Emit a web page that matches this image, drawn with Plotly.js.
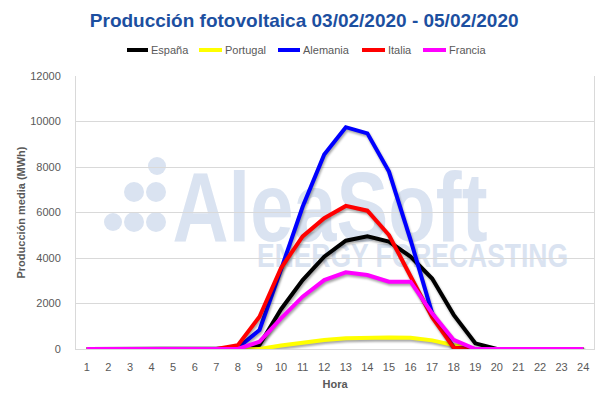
<!DOCTYPE html>
<html>
<head>
<meta charset="utf-8">
<script src="https://cdn.plot.ly/plotly-3.0.1.min.js"></script>
<style>
html,body{margin:0;padding:0;background:#fff;}
#chart{width:600px;height:399px;}
#chart .scatterlayer .trace path.js-line{filter:drop-shadow(1px 2px 1.2px rgba(0,0,0,0.35));}
</style>
</head>
<body>
<div id="chart"></div>
<script>
// ---- data ----
const horas = [1,2,3,4,5,6,7,8,9,10,11,12,13,14,15,16,17,18,19,20,21,22,23,24];
const espana   = [0,0,0,0,0,0,0,20,175,1750,3030,4060,4760,4950,4720,4060,3100,1500,250,0,0,0,0,0];
const portugal = [0,0,0,0,0,0,0,0,0,150,280,400,470,500,510,490,380,170,0,0,0,0,0,0];
const alemania = [0,0,0,0,0,0,0,50,835,3500,6250,8550,9750,9480,7800,4800,1580,60,0,0,0,0,0,0];
const italia   = [0,0,0,0,0,0,0,170,1420,3560,4950,5750,6290,6080,5010,3200,1400,60,0,0,0,0,0,0];
const francia  = [0,0,0,0,0,0,0,0,320,1350,2300,3030,3370,3250,2960,2960,1570,400,0,0,0,0,0,0];
const seriesNames = ["España","Portugal","Alemania","Italia","Francia"];
const seriesColors = ["#000000","#ffff00","#0000ff","#ff0000","#ff00ff"];
const yTicks = [0,2000,4000,6000,8000,10000,12000];

// ---- layout geometry (pixels) ----
const W = 600, H = 399;
const M = {l:76, r:6, t:76, b:50};
const pw = W - M.l - M.r, ph = H - M.t - M.b;
const px = x => (x - M.l) / pw;
const py = y => (H - M.b - y) / ph;

const allSeries = [espana, portugal, alemania, italia, francia];
const traces = allSeries.map((vals, i) => ({
  x: horas, y: vals, type: 'scatter', mode: 'lines', name: seriesNames[i],
  line: {color: seriesColors[i], width: 4}, showlegend: false
}));

const gray = '#595959';

// watermark (drawn below traces)
const wm = '#dae3f1';
const dots = [[113,222,9],[134,222,10],[156,222,10],[134,192,10],[156,192,10],[157,166,9]];
const shapes = dots.map(d => ({
  type:'circle', xref:'paper', yref:'paper', layer:'below',
  x0:px(d[0]-d[2]), x1:px(d[0]+d[2]), y0:py(d[1]+d[2]), y1:py(d[1]-d[2]),
  fillcolor: wm, line:{width:0}
}));
shapes.push({
  type:'rect', xref:'paper', yref:'paper', layer:'below',
  x0:px(170), x1:px(490), y0:py(240), y1:py(156), line:{width:0}, fillcolor:'rgba(0,0,0,0)',
  label:{text:'<b>AleaSoft</b>', font:{family:'Liberation Sans, Arial, sans-serif', size:98, color:wm}, textposition:'middle center'}
});
shapes.push({
  type:'rect', xref:'paper', yref:'paper', layer:'below',
  x0:px(257), x1:px(568), y0:py(268), y1:py(236), line:{width:0}, fillcolor:'rgba(0,0,0,0)',
  label:{text:'<b>ENERGY FORECASTING</b>', font:{family:'Liberation Sans, Arial, sans-serif', size:33, color:wm}, textposition:'middle center'}
});

// custom legend (line sample + label), laid out as in the original
const legLineX = [[127,148],[199,222],[278,300],[362,385],[423,446]];
const legY = 50;
const legendShapes = seriesNames.map((n, i) => ({
  type:'line', xref:'paper', yref:'paper',
  x0:px(legLineX[i][0]), x1:px(legLineX[i][1]), y0:py(legY), y1:py(legY),
  line:{color: seriesColors[i], width: 4}
}));
const legendAnn = seriesNames.map((n, i) => ({
  text: n, xref:'paper', yref:'paper', x:px(legLineX[i][1] + 1), y:py(legY),
  xanchor:'left', yanchor:'middle', showarrow:false,
  font:{size:11, color: gray}
}));

const layout = {
  width: W, height: H,
  margin: M,
  paper_bgcolor: '#ffffff',
  plot_bgcolor: 'rgba(0,0,0,0)',
  font: {family: 'Liberation Sans, Arial, sans-serif', color: gray, size: 11},
  title: {
    text: '<b>Producción fotovoltaica 03/02/2020 - 05/02/2020</b>',
    font: {family: 'Liberation Sans, Arial, sans-serif', size: 19, color: '#1c4fa0'},
    x: 0.507, xref: 'container', xanchor: 'center',
    y: 1 - 20/H, yref: 'container', yanchor: 'middle'
  },
  showlegend: false,
  xaxis: {
    range: [0.5, 24.5], tickmode: 'array', tickvals: horas, ticktext: horas.map(String),
    showgrid: false, zeroline: false, showline: true, linecolor: '#d9d9d9', linewidth: 1,
    ticks: '', ticklabelstandoff: 8, tickfont: {size: 11, color: gray},
    title: {text: '<b>Hora</b>', font: {size: 11, color: gray}, standoff: 8},
    fixedrange: true
  },
  yaxis: {
    range: [0, 12000], tickmode: 'array', tickvals: yTicks, ticktext: yTicks.map(String),
    showgrid: true, gridcolor: '#d9d9d9', gridwidth: 1, zeroline: false,
    showline: true, linecolor: '#d9d9d9', linewidth: 1, mirror: true,
    ticks: '', ticklabelstandoff: 12, tickfont: {size: 11, color: gray},
    title: {text: '<b>Producción media (MWh)</b>', font: {size: 11, color: gray}, standoff: 2},
    fixedrange: true
  },
  shapes: shapes.concat(legendShapes),
  annotations: legendAnn
};

Plotly.newPlot('chart', traces, layout, {displayModeBar: false, staticPlot: true}).then(() => {
  // condense the watermark lettering to the original's narrow width
  const fit = {'AleaSoft': 315, 'ENERGY FORECASTING': 311};
  document.querySelectorAll('#chart text').forEach(t => {
    const w = fit[t.textContent];
    if (w) {
      t.setAttribute('textLength', w);
      t.setAttribute('lengthAdjust', 'spacingAndGlyphs');
    }
  });
});
</script>
</body>
</html>
